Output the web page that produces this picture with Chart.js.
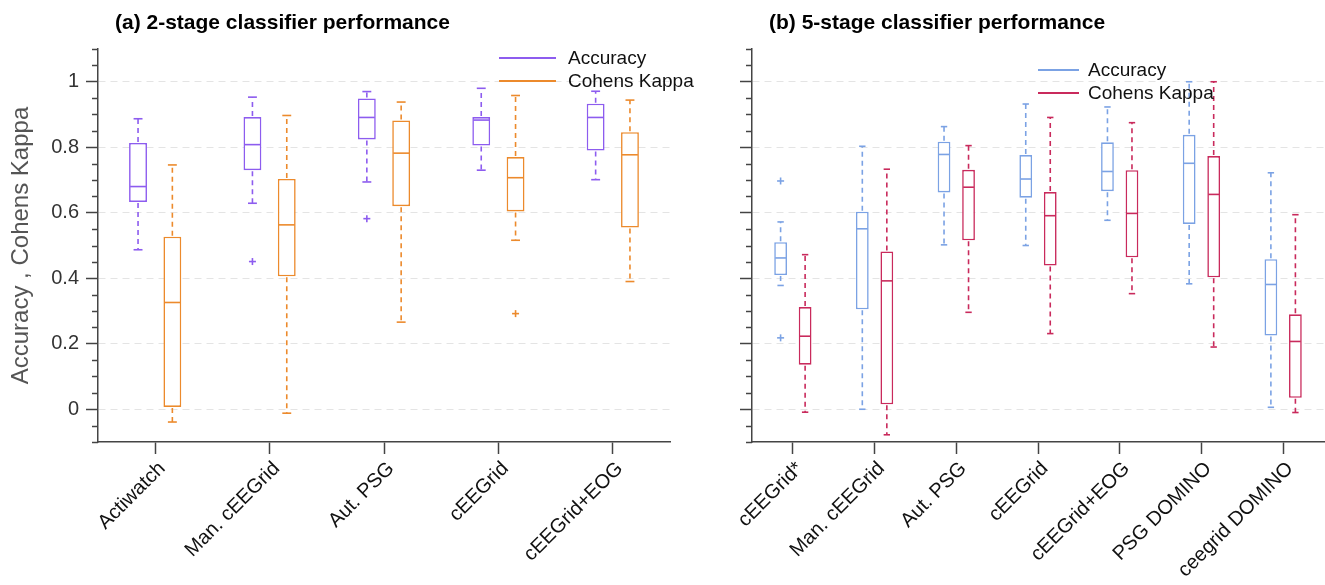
<!DOCTYPE html>
<html><head><meta charset="utf-8">
<script src="https://cdn.jsdelivr.net/npm/chart.js@4.4.0/dist/chart.umd.min.js"></script>
<style>
html,body{margin:0;padding:0;background:#fff;}
#wrap{position:relative;width:1325px;height:585px;overflow:hidden;}
#c1{position:absolute;left:0;top:0;}
#c2{position:absolute;left:700px;top:0;}
</style></head><body>
<div id="wrap"><canvas id="c1" width="700" height="585"></canvas><canvas id="c2" width="625" height="585"></canvas></div>
<script>
const titleA = '(a) 2-stage classifier performance';
const titleB = '(b) 5-stage classifier performance';
const yAxisTitle = 'Accuracy , Cohens Kappa';
const seriesLabels = ['Accuracy', 'Cohens Kappa'];
const categoriesA = ['Actiwatch', 'Man. cEEGrid', 'Aut. PSG', 'cEEGrid', 'cEEGrid+EOG'];
const categoriesB = ['cEEGrid*', 'Man. cEEGrid', 'Aut. PSG', 'cEEGrid', 'cEEGrid+EOG', 'PSG DOMINO', 'ceegrid DOMINO'];
// each entry: [lower whisker, Q1, median, Q3, upper whisker]
const accuracyA = [[0.487,0.633,0.680,0.813,0.887],[0.629,0.730,0.808,0.892,0.953],[0.694,0.824,0.891,0.949,0.970],[0.730,0.805,0.883,0.892,0.980],[0.701,0.790,0.891,0.933,0.971]];
const accuracyOutliersA = [[],[0.451],[0.582],[],[]];
const kappaA = [[-0.039,0.007,0.326,0.527,0.746],[-0.012,0.406,0.563,0.703,0.897],[0.266,0.620,0.782,0.882,0.938],[0.516,0.604,0.707,0.770,0.958],[0.390,0.555,0.777,0.846,0.944]];
const kappaOutliersA = [[],[],[],[0.292],[]];
const accuracyB = [[0.378,0.410,0.462,0.510,0.572],[0.000,0.305,0.551,0.603,0.803],[0.502,0.662,0.778,0.817,0.863],[0.500,0.646,0.703,0.776,0.932],[0.577,0.666,0.726,0.815,0.923],[0.383,0.566,0.751,0.838,1.000],[0.006,0.225,0.381,0.458,0.722]];
const accuracyOutliersB = [[0.697,0.218],[],[],[],[],[],[]];
const kappaB = [[-0.009,0.136,0.223,0.312,0.472],[-0.078,0.015,0.392,0.482,0.733],[0.296,0.516,0.678,0.731,0.805],[0.231,0.439,0.591,0.663,0.891],[0.353,0.464,0.598,0.730,0.875],[0.190,0.403,0.656,0.773,1.000],[-0.010,0.035,0.207,0.290,0.594]];
const kappaOutliersB = [[],[],[],[],[],[],[]];
const yMin = -0.1, yMax = 1.1, yStep = 0.05, yMajor = 0.2;

const FONT = "'Liberation Sans', Arial, Helvetica, sans-serif";
const isMajor = v => Math.abs(v / yMajor - Math.round(v / yMajor)) < 1e-6;

const boxPlugin = {
  id: 'boxExtras',
  afterDatasetsDraw(chart) {
    const ctx = chart.ctx, y = chart.scales.y;
    chart.data.datasets.forEach((ds, di) => {
      const meta = chart.getDatasetMeta(di);
      meta.data.forEach((bar, i) => {
        const s = ds.stats[i];
        const x = bar.x, w = bar.width;
        const py = v => y.getPixelForValue(v);
        ctx.save();
        ctx.strokeStyle = ds.borderColor;
        ctx.lineWidth = 1.6;
        const line = (x1, y1, x2, y2) => { ctx.beginPath(); ctx.moveTo(x1, y1); ctx.lineTo(x2, y2); ctx.stroke(); };
        line(x - w / 2 + 1, py(s[2]), x + w / 2 - 1, py(s[2]));
        ctx.setLineDash([5, 4]);
        line(x, py(s[3]) - 1, x, py(s[4]));
        line(x, py(s[1]) + 1, x, py(s[0]));
        ctx.setLineDash([]);
        line(x - w / 4, py(s[4]), x + w / 4, py(s[4]));
        line(x - w / 4, py(s[0]), x + w / 4, py(s[0]));
        (ds.outliers[i] || []).forEach(o => {
          const oy = py(o);
          line(x - 3.5, oy, x + 3.5, oy);
          line(x, oy - 3.5, x, oy + 3.5);
        });
        ctx.restore();
      });
    });
  },
  afterDraw(chart, args, opts) {
    const ctx = chart.ctx, y = chart.scales.y, area = chart.chartArea;
    ctx.save();
    // minor y ticks
    ctx.strokeStyle = '#444'; ctx.lineWidth = 1.5;
    y.ticks.forEach(t => {
      if (!isMajor(t.value) || t.value < -1e-6 || t.value > 1 + 1e-6) {
        const p = Math.round(y.getPixelForValue(t.value)) + 0.5;
        ctx.beginPath(); ctx.moveTo(area.left - 6, p); ctx.lineTo(area.left, p); ctx.stroke();
      }
    });
    // panel title
    ctx.fillStyle = '#000';
    ctx.font = 'bold 21px ' + FONT;
    ctx.textBaseline = 'middle'; ctx.textAlign = 'left';
    ctx.fillText(opts.title, area.left + opts.titleDx, opts.titleY);
    // legend
    ctx.font = '19px ' + FONT;
    chart.data.datasets.forEach((ds, di) => {
      const ly = opts.legendY + di * opts.legendRow;
      ctx.strokeStyle = ds.borderColor; ctx.lineWidth = 2;
      ctx.beginPath(); ctx.moveTo(opts.legendX, ly); ctx.lineTo(opts.legendX + opts.legendLine, ly); ctx.stroke();
      ctx.fillStyle = '#111';
      ctx.fillText(ds.label, opts.legendX + opts.legendLine + opts.legendGap, ly + 1);
    });
    ctx.restore();
  }
};

function makeChart(id, cats, acc, accOut, kap, kapOut, colors, cfg) {
  const mk = (label, stats, outs, color) => ({
    label, stats, outliers: outs,
    data: stats.map(s => [s[1], s[3]]),
    backgroundColor: '#ffffff', borderColor: color, borderWidth: 1.6, borderSkipped: false,
    categoryPercentage: 0.6, barPercentage: 0.52
  });
  return new Chart(document.getElementById(id), {
    type: 'bar',
    data: {
      labels: cats,
      datasets: [mk(seriesLabels[0], acc, accOut, colors[0]), mk(seriesLabels[1], kap, kapOut, colors[1])]
    },
    options: {
      responsive: false, animation: false,
      layout: { padding: { top: 49, right: cfg.padRight, left: 0, bottom: 0 } },
      plugins: {
        legend: { display: false }, tooltip: { enabled: false }, title: { display: false },
        boxExtras: cfg.extras
      },
      scales: {
        x: {
          offset: true,
          grid: { display: true, drawOnChartArea: false, offset: false, tickLength: 12, tickColor: '#444', tickWidth: 1.5 },
          border: { display: true, color: '#444', width: 1.5 },
          ticks: { autoSkip: false, minRotation: 45, maxRotation: 45, padding: 3, labelOffset: 7, color: '#111', font: { family: FONT, size: 20 } },
          afterFit: s => { s.height = 585 - 442; }
        },
        y: {
          min: yMin, max: yMax,
          grid: {
            color: c => (isMajor(c.tick.value) && c.tick.value > -1e-6 && c.tick.value < 1 + 1e-6) ? '#e4e4e4' : 'rgba(0,0,0,0)',
            lineWidth: 1, tickLength: 12, tickWidth: 1.5,
            tickColor: c => (isMajor(c.tick.value) && c.tick.value > -1e-6 && c.tick.value < 1 + 1e-6) ? '#444' : 'rgba(0,0,0,0)'
          },
          border: { display: true, color: '#444', width: 1.5, dash: [7, 5] },
          ticks: {
            stepSize: yStep, autoSkip: false, padding: 7, color: '#333',
            font: { family: FONT, size: 20 },
            callback: v => (cfg.showLabels && isMajor(v) && v > -1e-6 && v < 1 + 1e-6) ? String(Math.round(v * 10) / 10) : ''
          },
          title: { display: cfg.showLabels, text: yAxisTitle, color: '#555', font: { family: FONT, size: 24 }, padding: { top: 7, bottom: 0 } },
          afterFit: s => { s.width = cfg.axisLeft; }
        }
      }
    },
    plugins: [boxPlugin]
  });
}

makeChart('c1', categoriesA, accuracyA, accuracyOutliersA, kappaA, kappaOutliersA, ['#8d5cef', '#ec8a2c'], {
  padRight: 30, axisLeft: 98, showLabels: true,
  extras: { title: titleA, titleDx: 17, titleY: 23, legendX: 499, legendY: 58, legendRow: 23, legendLine: 57, legendGap: 12 }
});
makeChart('c2', categoriesB, accuracyB, accuracyOutliersB, kappaB, kappaOutliersB, ['#7ba2e4', '#c92a5c'], {
  padRight: 1, axisLeft: 52, showLabels: false,
  extras: { title: titleB, titleDx: 17, titleY: 23, legendX: 338, legendY: 70, legendRow: 23, legendLine: 41, legendGap: 9 }
});
</script>
</body></html>
